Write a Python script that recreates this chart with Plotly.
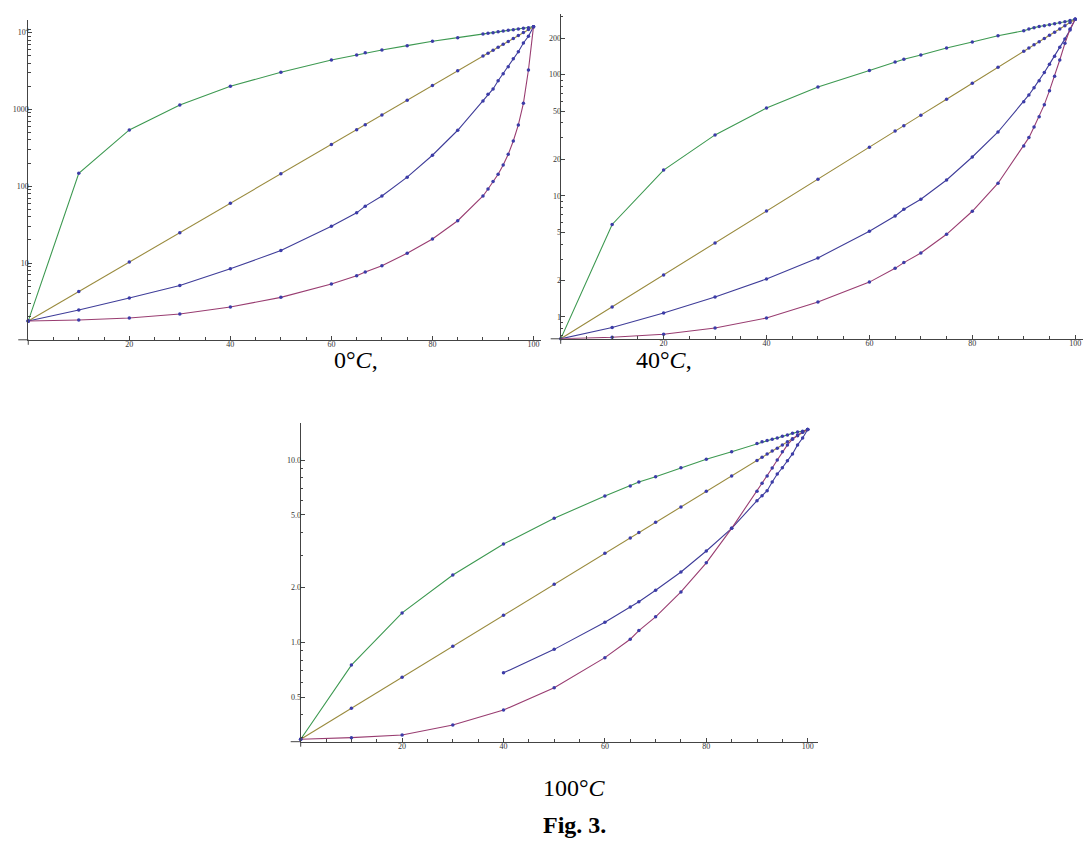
import plotly.graph_objects as go

W, H = 1085, 844

# ---------------- data ----------------
X = [0, 10, 20, 30, 40, 50, 60, 65, 66.7, 70, 75, 80, 85, 90,
     91, 92, 93, 94, 95, 96, 97, 98, 99, 100]
X_BLUE_100 = [40, 50, 60, 65, 66.7, 70, 75, 80, 85, 90,
              91, 92, 93, 94, 95, 96, 97, 98, 99, 100]

# 0 °C
green_0 = [1.76, 147, 540, 1140, 2000, 3040, 4400, 5100, 5470, 5930, 6760, 7710, 8590, 9590,
           9790, 9970, 10280, 10490, 10710, 10920, 11140, 11380, 11590, 11940]
yellow_0 = [1.76, 4.25, 10.3, 24.8, 60.0, 145, 350, 545, 632, 846, 1315, 2045, 3180, 4945,
            5400, 5900, 6440, 7030, 7680, 8390, 9160, 10000, 10930, 11940]
blue_0 = [1.76, 2.44, 3.5, 5.1, 8.4, 14.5, 30, 45, 55, 74.5, 131, 253, 535, 1285,
          1574, 1845, 2365, 2920, 3600, 4575, 5640, 7330, 8950, 11940]
purple_0 = [1.76, 1.81, 1.92, 2.17, 2.67, 3.57, 5.33, 6.84, 7.63, 9.2, 13.4, 20.5, 35.5, 74.5,
            92, 115, 143, 189, 260, 388, 627, 1200, 3260, 11940]

# 40 °C
green_40 = [0.66, 5.8, 16.3, 31.8, 53, 79, 108, 127, 134, 145, 166, 186, 209, 230,
            238, 244, 249, 253, 258, 263, 268, 273, 279, 286]
yellow_40 = [0.661, 1.21, 2.22, 4.08, 7.49, 13.7, 25.2, 34.2, 37.8, 46.3, 62.7, 84.9, 115, 156,
             166, 176, 187, 199, 211, 224, 238, 253, 269, 286]
blue_40 = [0.66, 0.82, 1.08, 1.46, 2.06, 3.07, 5.1, 6.81, 7.74, 9.36, 13.5, 20.9, 33.6, 59.8,
           67.9, 78, 89, 104, 122, 142, 168, 197, 233, 286]
purple_40 = [0.66, 0.68, 0.72, 0.81, 0.98, 1.33, 1.94, 2.52, 2.81, 3.37, 4.81, 7.45, 12.7, 25.8,
             30.2, 37, 45, 56.5, 73.7, 96.9, 132, 181, 238, 286]

# 100 °C
green_100 = [0.294, 0.75, 1.45, 2.34, 3.46, 4.79, 6.35, 7.2, 7.57, 8.1, 9.07, 10.1, 11.1, 12.3,
             12.6, 12.8, 13.0, 13.2, 13.5, 13.7, 14.0, 14.25, 14.4, 14.7]
yellow_100 = [0.294, 0.435, 0.643, 0.951, 1.41, 2.08, 3.08, 3.74, 4.0, 4.55, 5.53, 6.73, 8.18, 9.95,
              10.35, 10.8, 11.2, 11.6, 12.1, 12.6, 13.1, 13.6, 14.2, 14.7]
blue_100 = [0.68, 0.915, 1.29, 1.56, 1.67, 1.93, 2.43, 3.17, 4.22, 5.98,
            6.37, 6.79, 7.57, 8.38, 9.07, 9.9, 10.8, 12.1, 13.2, 14.7]
purple_100 = [0.294, 0.30, 0.31, 0.352, 0.425, 0.564, 0.824, 1.04, 1.16, 1.38, 1.89, 2.73, 4.22, 6.73,
              7.45, 8.17, 9.04, 10.0, 11.1, 12.1, 13.0, 13.7, 14.25, 14.7]

X_TICKS = [20, 40, 60, 80, 100]
Y_TICKS_0 = [10, 100, 1000, 10000]
Y_TEXT_0 = ["10", "100", "1000", "10<sup>4</sup>"]
Y_TICKS_40 = [1, 2, 5, 10, 20, 50, 100, 200]
Y_TEXT_40 = ["1", "2", "5", "10", "20", "50", "100", "200"]
Y_TICKS_100 = [0.5, 1, 2, 5, 10]
Y_TEXT_100 = ["0.5", "1.0", "2.0", "5.0", "10.0"]
Y_MINOR_0 = [m * 10 ** e for e in range(0, 4) for m in range(2, 10)] + [11000]
Y_MINOR_40 = [0.7, 0.8, 0.9, 3, 4, 6, 7, 8, 9, 30, 40, 60, 70, 80, 90, 300]
Y_MINOR_100 = [0.3, 0.4, 0.6, 0.7, 0.8, 0.9, 3, 4, 6, 7, 8, 9]

CAPTIONS = ["0°<i>C</i>,", "40°<i>C</i>,", "100°<i>C</i>", "<b>Fig. 3.</b>"]

# ---------------- style ----------------
GREEN = "#3d9951"
YELLOW = "#998a3d"
BLUE = "#3f3d99"
PURPLE = "#993d71"
DOT = "#3c3ca8"
AXIS = "#444444"
FONT = "Liberation Serif"

fig = go.Figure()

# panel geometry in pixels: x of x=0, px per unit, x range max, y px bottom/top, log range
panels = [
    dict(ax="", x0=28.25, xs=5.0525, xmax=101.5, yb=339.8, yt=20.3, ylog=[0, 4.16],
         series=[(X, green_0, GREEN), (X, yellow_0, YELLOW), (X, blue_0, BLUE), (X, purple_0, PURPLE)],
         yt_vals=Y_TICKS_0, yt_text=Y_TEXT_0, yminor=Y_MINOR_0),
    dict(ax="2", x0=560.7, xs=5.145, xmax=101.5, yb=338.8, yt=14.0, ylog=[-0.18, 2.5],
         series=[(X, green_40, GREEN), (X, yellow_40, YELLOW), (X, blue_40, BLUE), (X, purple_40, PURPLE)],
         yt_vals=Y_TICKS_40, yt_text=Y_TEXT_40, yminor=Y_MINOR_40),
    dict(ax="3", x0=300.7, xs=5.07, xmax=102, yb=741.7, yt=423.0, ylog=[-0.545, 1.203],
         series=[(X, green_100, GREEN), (X, yellow_100, YELLOW), (X_BLUE_100, blue_100, BLUE), (X, purple_100, PURPLE)],
         yt_vals=Y_TICKS_100, yt_text=Y_TEXT_100, yminor=Y_MINOR_100),
]

shapes = []
for p in panels:
    xa = "x" + p["ax"]
    ya = "y" + p["ax"]
    for xs_, ys_, col in p["series"]:
        fig.add_trace(go.Scatter(
            x=xs_, y=ys_, xaxis=xa, yaxis=ya, mode="lines+markers",
            line=dict(color=col, width=1.1),
            marker=dict(color=DOT, size=3.5),
            showlegend=False, hoverinfo="skip", cliponaxis=False))
    px1 = p["x0"] + p["xs"] * p["xmax"]
    xdom = [p["x0"] / W, px1 / W]
    ydom = [1 - p["yb"] / H, 1 - p["yt"] / H]
    xkey = "xaxis" + p["ax"]
    ykey = "yaxis" + p["ax"]
    fig.update_layout(**{
        xkey: dict(domain=xdom, anchor=ya, range=[0, p["xmax"]], showgrid=False, zeroline=False,
                   showline=True, linecolor=AXIS, linewidth=1,
                   ticks="inside", ticklen=4, tickcolor=AXIS, tickwidth=1,
                   tickvals=X_TICKS, ticktext=[str(v) for v in X_TICKS],
                   ticklabelstandoff=-3,
                   tickfont=dict(family=FONT, size=8, color="#333"),
                   minor=dict(ticks="inside", ticklen=2.5, tickcolor=AXIS, dtick=5, tick0=0, showgrid=False)),
        ykey: dict(domain=ydom, anchor=xa, type="log", range=p["ylog"], showgrid=False, zeroline=False,
                   showline=True, linecolor=AXIS, linewidth=1,
                   ticks="inside", ticklen=4, tickcolor=AXIS, tickwidth=1,
                   tickmode="array", tickvals=p["yt_vals"], ticktext=p["yt_text"],
                   ticklabelstandoff=-3,
                   tickfont=dict(family=FONT, size=8, color="#333"),
                   minor=dict(ticks="inside", ticklen=2.5, tickcolor=AXIS, tickmode="array",
                              tickvals=p["yminor"], showgrid=False)),
    })
    # axis overhangs (Mathematica-style crossing axes)
    shapes.append(dict(type="line", xref="paper", yref="paper",
                       x0=(p["x0"] - 10) / W, x1=p["x0"] / W,
                       y0=1 - p["yb"] / H, y1=1 - p["yb"] / H,
                       line=dict(color=AXIS, width=1)))
    shapes.append(dict(type="line", xref="paper", yref="paper",
                       x0=p["x0"] / W, x1=p["x0"] / W,
                       y0=1 - p["yb"] / H, y1=1 - (p["yb"] + 5) / H,
                       line=dict(color=AXIS, width=1)))

ann_pos = [(356, 360), (664, 360), (574, 788), (574, 825)]
annotations = []
for txt, (ax_, ay_) in zip(CAPTIONS, ann_pos):
    annotations.append(dict(text=txt, xref="paper", yref="paper", x=ax_ / W, y=1 - ay_ / H,
                            xanchor="center", yanchor="middle", showarrow=False,
                            font=dict(family=FONT, size=24, color="#000")))

fig.update_layout(width=W, height=H, margin=dict(l=0, r=0, t=0, b=0),
                  paper_bgcolor="white", plot_bgcolor="white",
                  shapes=shapes, annotations=annotations)

fig.write_html("out.html", config={"displayModeBar": False},
               post_script="document.body.style.margin='0';document.body.style.overflow='hidden';")
